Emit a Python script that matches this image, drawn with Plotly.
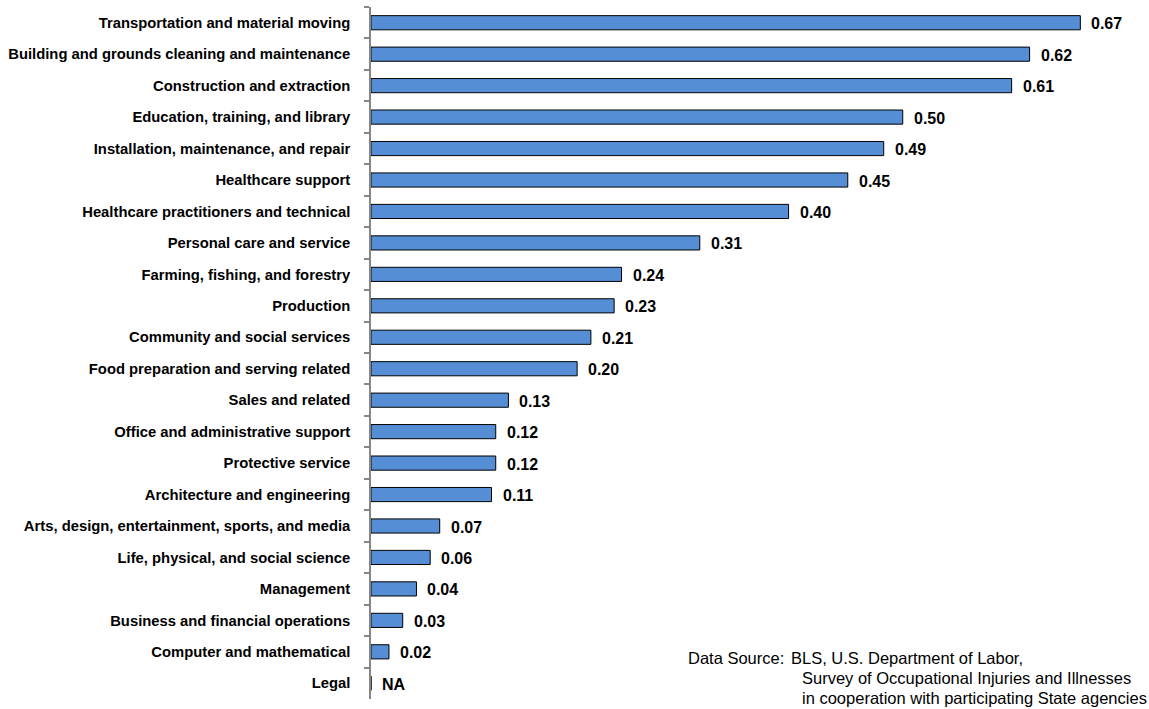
import plotly.graph_objects as go

occupations = [
    "Transportation and material moving",
    "Building and grounds cleaning and maintenance",
    "Construction and extraction",
    "Education, training, and library",
    "Installation, maintenance, and repair",
    "Healthcare support",
    "Healthcare practitioners and technical",
    "Personal care and service",
    "Farming, fishing, and forestry",
    "Production",
    "Community and social services",
    "Food preparation and serving related",
    "Sales and related",
    "Office and administrative support",
    "Protective service",
    "Architecture and engineering",
    "Arts, design, entertainment, sports, and media",
    "Life, physical, and social science",
    "Management",
    "Business and financial operations",
    "Computer and mathematical",
    "Legal",
]
# bar lengths (Legal has no data)
rates = [0.671, 0.623, 0.606, 0.503, 0.485, 0.451, 0.395, 0.311, 0.237, 0.230,
         0.208, 0.195, 0.130, 0.118, 0.118, 0.114, 0.065, 0.056, 0.043, 0.030,
         0.017, 0]
rate_labels = ["0.67", "0.62", "0.61", "0.50", "0.49", "0.45", "0.40", "0.31",
               "0.24", "0.23", "0.21", "0.20", "0.13", "0.12", "0.12", "0.11",
               "0.07", "0.06", "0.04", "0.03", "0.02", "NA"]

source_head = "Data Source:"
source_lines = ["BLS, U.S. Department of Labor,",
                "Survey of Occupational Injuries and Illnesses",
                "in cooperation with participating State agencies"]

FONT = "Liberation Sans, Arial"
L, R, T, B = 371, 38, 7, 10
W, H = 1149, 709
pw, ph = W - L - R, H - T - B


def px_x(px):
    return (px - L) / pw


def px_y(py):
    return (H - B - py) / ph


fig = go.Figure()
fig.add_trace(go.Bar(
    x=rates, y=occupations, orientation="h",
    marker=dict(color="#558ED5", line=dict(color="#000000", width=1)),
    hoverinfo="x+y",
))

for occ, r, lab in zip(occupations, rates, rate_labels):
    fig.add_annotation(x=r, y=occ, text="<b>" + lab + "</b>", showarrow=False,
                       xanchor="left", xshift=9, yshift=-1,
                       font=dict(family=FONT, size=16, color="#000000"))

src_font = dict(family=FONT, size=16.5, color="#000000")
fig.add_annotation(xref="paper", yref="paper", x=px_x(686), y=px_y(658), xanchor="left",
                   yanchor="middle", text=source_head, showarrow=False, font=src_font)
for i, line in enumerate(source_lines):
    fig.add_annotation(xref="paper", yref="paper", x=px_x(789 if i == 0 else 800),
                       y=px_y(658 + 20 * i), xanchor="left", yanchor="middle",
                       text=line, showarrow=False, font=src_font)

fig.update_layout(
    width=W, height=H,
    margin=dict(l=L, r=R, t=T, b=B),
    plot_bgcolor="white", paper_bgcolor="white",
    bargap=0.55, showlegend=False,
    font=dict(family=FONT, color="#000000"),
)
fig.update_xaxes(range=[0, 0.7], visible=False)
fig.update_yaxes(
    autorange="reversed", automargin=False, showline=True, linecolor="#868686", linewidth=1.5,
    ticks="outside", tickson="boundaries", ticklen=5, tickcolor="#868686", tickwidth=1.5,
    ticklabelstandoff=16, showgrid=False,
    tickfont=dict(family=FONT, size=14.8, color="#000000", weight="bold"),
)

# page body has a default 8px margin, drop it so the figure fills the window
fig.write_html("out.html", config={"displayModeBar": False},
               post_script="document.body.style.margin='0';")
